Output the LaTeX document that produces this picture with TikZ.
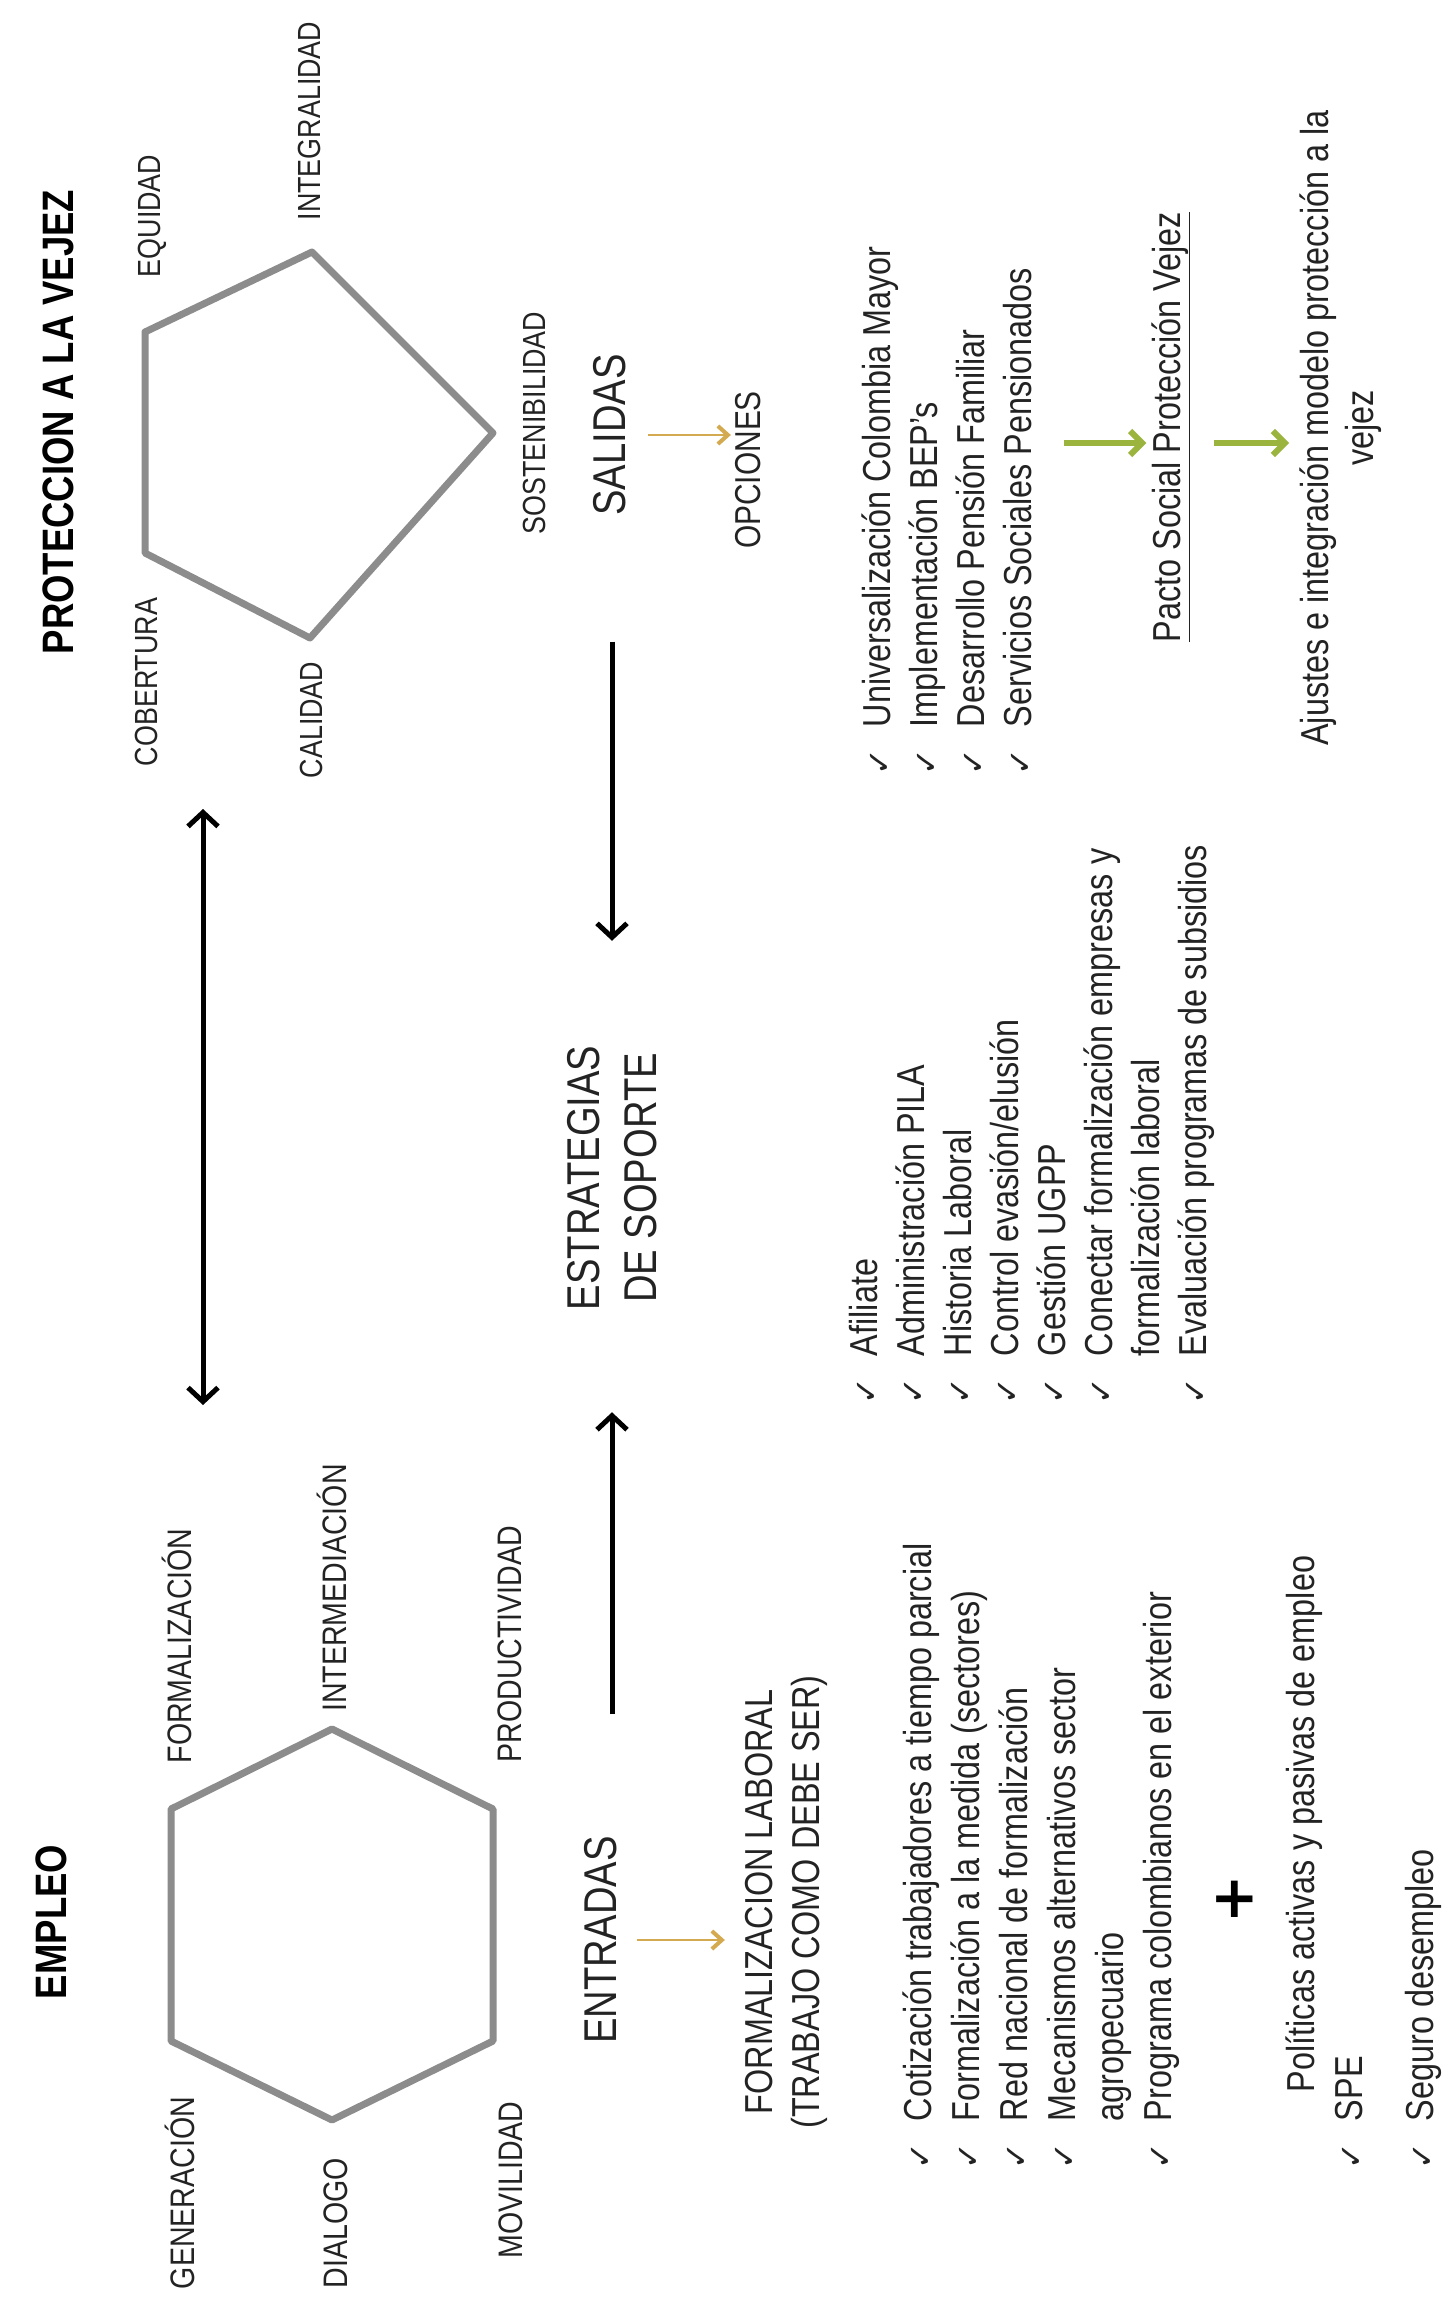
\documentclass[tikz,border=0pt]{standalone}
\usepackage{fontspec}
\setmainfont{Liberation Sans}
\newfontfamily\nf[FakeStretch=0.83]{Liberation Sans}
\newfontfamily\lf[FakeStretch=0.84]{Liberation Sans}
\newfontfamily\ckf{DejaVu Sans}
\usetikzlibrary{arrows.meta}
\definecolor{txt}{RGB}{35,35,35}
\definecolor{shp}{RGB}{140,140,140}
\definecolor{gold}{RGB}{212,170,80}
\definecolor{olive}{RGB}{155,180,62}
\newcommand{\ck}{\makebox[48pt][l]{\ckf\fontsize{32}{32}\selectfont ✓}}
\newcommand{\ind}{\hspace*{48pt}}
\newcommand{\strt}{\rule{0pt}{32pt}}
\begin{document}
\begin{tikzpicture}[x=1pt,y=-1pt,
  every node/.style={inner sep=0pt,outer sep=0pt,text=txt},
  vert/.style={rotate=90},
  headtxt/.style={vert,text=black,font=\nf\bfseries\fontsize{44}{50}\selectfont},
  plabel/.style={vert,anchor=base,font=\lf\fontsize{32}{36}\selectfont},
  hlabel/.style={vert,anchor=base,font=\lf\fontsize{34}{38}\selectfont},
  bigtxt/.style={vert,font=\nf\fontsize{46}{57}\selectfont},
  lsttxt/.style={vert,font=\nf\fontsize{39}{47}\selectfont},
  lstblock/.style={lsttxt,align=left,anchor=north west},
  polyline/.style={draw=shp,line width=7pt,line join=round},
  blackarrow/.style={draw=black,line width=5pt,-{Straight Barb[length=14pt,width=30pt]}},
  dblarrow/.style={draw=black,line width=5pt,{Straight Barb[length=14pt,width=30pt]}-{Straight Barb[length=14pt,width=30pt]}},
  goldarrow/.style={draw=gold,line width=2.5pt,-{Straight Barb[length=10pt,width=18pt,line width=4pt]}},
  greenarrow/.style={draw=olive,line width=6pt,-{Straight Barb[length=12pt,width=24pt]}},
]
\fill[white] (0,0) rectangle (1453,2305);
\useasboundingbox (0,0) rectangle (1453,2305);

% ---------- PROTECCION A LA VEJEZ ----------
\node[headtxt] (prot) at (58,422) {PROTECCION A LA VEJEZ};
\draw[polyline] (145,553) -- (145,332) -- (312,252) -- (493,433) -- (310,638) -- cycle;
\node[plabel] (equidad) at (160,216) {EQUIDAD};
\node[plabel] (integralidad) at (320,121) {INTEGRALIDAD};
\node[plabel] (sosten) at (545,423) {SOSTENIBILIDAD};
\node[plabel] (cobertura) at (157,682) {COBERTURA};
\node[plabel] (calidad) at (322,720) {CALIDAD};

% ---------- EMPLEO ----------
\node[headtxt] (empleo) at (51,1922) {EMPLEO};
\draw[polyline] (332,1729) -- (171,1809) -- (171,2041) -- (332,2120) -- (493,2041) -- (493,1809) -- cycle;
\node[hlabel] (formaliz) at (191,1646) {FORMALIZACIÓN};
\node[hlabel] (intermed) at (346,1588) {INTERMEDIACIÓN};
\node[hlabel] (product) at (521,1644) {PRODUCTIVIDAD};
\node[hlabel] (generac) at (194,2193) {GENERACIÓN};
\node[hlabel] (dialogo) at (347,2223) {DIALOGO};
\node[hlabel] (movil) at (522,2180) {MOVILIDAD};

% double arrow between the two models
\coordinate (datop) at (203,809);
\coordinate (dabot) at (203,1405);
\draw[dblarrow] (datop) -- (dabot);

% ---------- middle column ----------
\node[bigtxt,anchor=base] (salidas) at (625,435) {SALIDAS};
\node[bigtxt,anchor=base] (entradas) at (616,1940) {ENTRADAS};
\node[bigtxt,align=center] (estr) at (612,1178) {ESTRATEGIAS\\DE SOPORTE};
\node[vert,anchor=base,font=\nf\fontsize{36}{40}\selectfont] (opciones) at (760,470) {OPCIONES};
\node[lsttxt,align=center] (formal) at (786,1902) {FORMALIZACION LABORAL\\(TRABAJO COMO DEBE SER)};

\draw[blackarrow,shorten <=126pt,shorten >=105pt] (salidas.west -| estr.east) -- (estr.east);
\draw[blackarrow,shorten <=122pt,shorten >=102pt] (entradas.east -| estr.west) -- (estr.west);
\draw[goldarrow,shorten <=23pt,shorten >=4pt] (salidas.south) -- (salidas.south -| opciones.north);
\draw[goldarrow,shorten <=21pt,shorten >=20pt] (entradas.south) -- (entradas.south -| formal.north);

% ---------- lists ----------
\node[lstblock] (oplist) at (858,775) {\strt\ck Universalización Colombia Mayor\\
\ck Implementación BEP’s\\
\ck Desarrollo Pensión Familiar\\
\ck Servicios Sociales Pensionados};

\node[lstblock] (estlist) at (845,1404) {\strt\ck Afiliate\\
\ck Administración PILA\\
\ck Historia Laboral\\
\ck Control evasión/elusión\\
\ck Gestión UGPP\\
\ck Conectar formalización empresas y\\
\ind formalización laboral\\
\ck Evaluación programas de subsidios};

\node[lstblock,font=\nf\fontsize{39}{48}\selectfont] (formlist) at (899,2169) {\strt\ck Cotización trabajadores a tiempo parcial\\
\ck Formalización a la medida (sectores)\\
\ck Red nacional de formalización\\
\ck Mecanismos alternativos sector\\
\ind agropecuario\\
\ck Programa colombianos en el exterior};

\node[font=\ckf\bfseries\fontsize{58}{58}\selectfont,text=black] (plus) at (1235,1899) {+};
\node[lsttxt,anchor=base west] (politicas) at (1314,2092) {Políticas activas y pasivas de empleo};
\node[lstblock] (spelist) at (1330,2169) {\strt\ck SPE\\[24pt]
\ck Seguro desempleo};

% ---------- right side ----------
\node[lsttxt,anchor=base] (pacto) at (1180,427) {\underline{Pacto Social Protección Vejez}};
\node[vert,align=center,font=\nf\fontsize{39}{45}\selectfont] (ajustes) at (1341,428) {Ajustes e integración modelo protección a la\\vejez};

\coordinate (row) at (0,443);
\draw[greenarrow,shorten <=33pt,shorten >=5pt] (oplist.south |- row) -- (pacto.north |- row);
\draw[greenarrow,shorten <=24pt,shorten >=11pt] (pacto.south |- row) -- (ajustes.north |- row);
\end{tikzpicture}
\end{document}
